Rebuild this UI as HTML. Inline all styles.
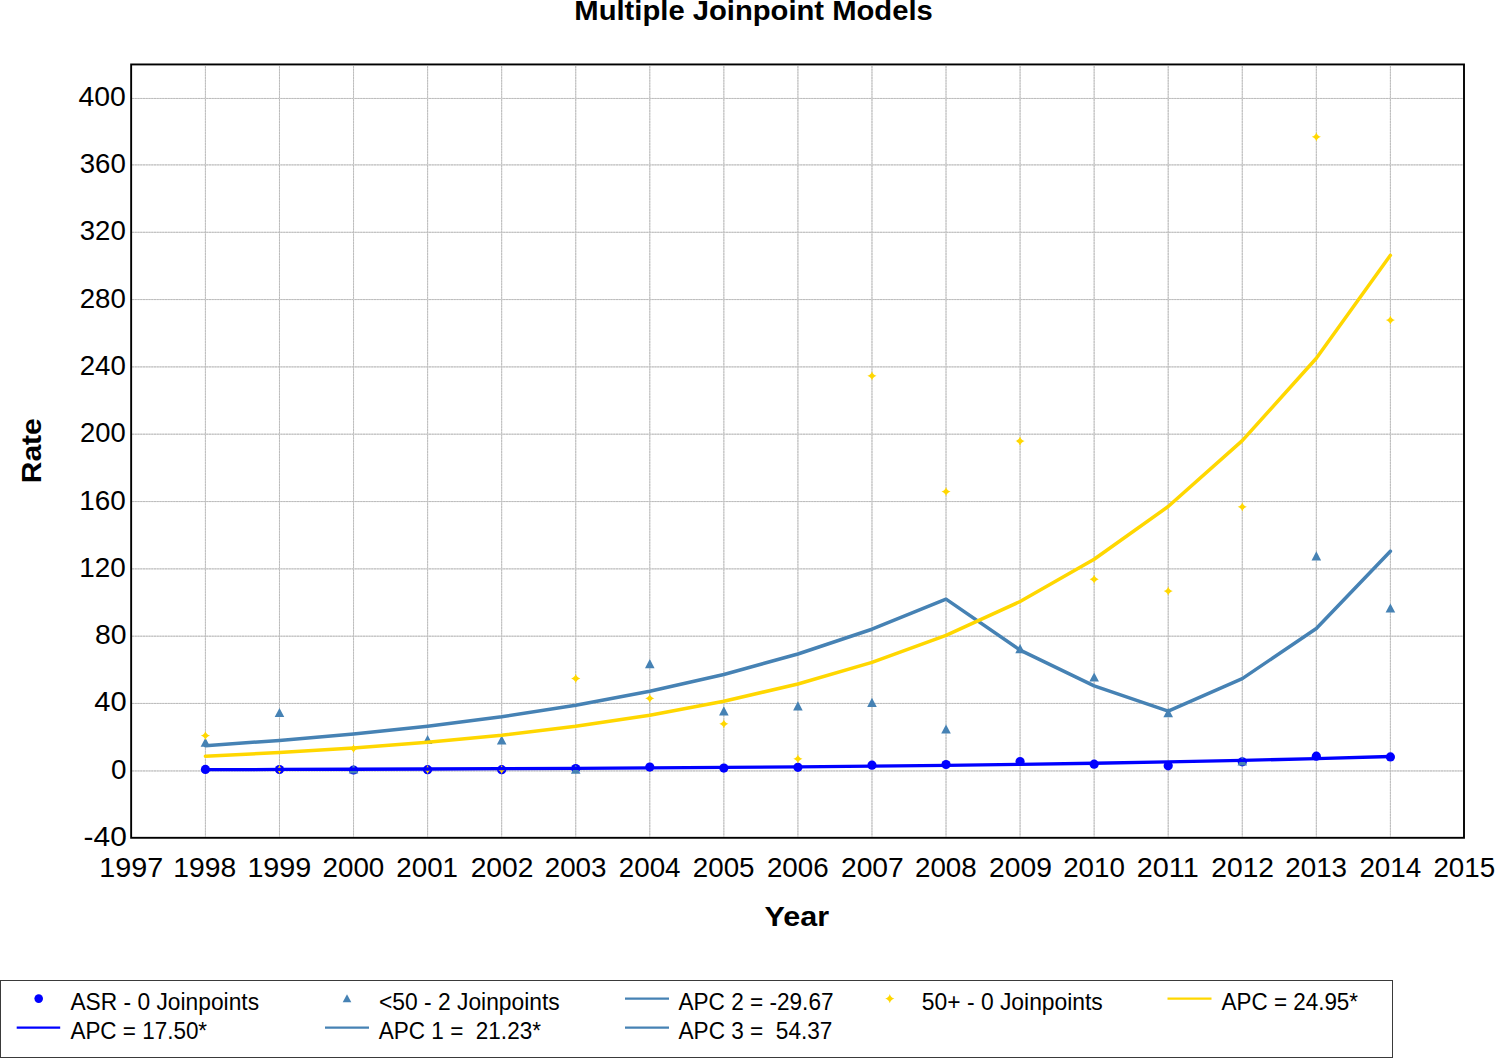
<!DOCTYPE html>
<html><head><meta charset="utf-8"><style>
html,body{margin:0;padding:0;background:#fff;}
svg{display:block;}
text{white-space:pre;}
.g0{stroke:#d6d6d6;stroke-width:1;}.g{stroke:#bcbcbc;stroke-width:1;stroke-dasharray:2 0.75;}
.tky{font-family:"Liberation Sans",sans-serif;font-size:27.4px;fill:#000;}.tkx{font-family:"Liberation Sans",sans-serif;font-size:27.3px;fill:#000;}.tt1{font-family:"Liberation Sans",sans-serif;font-size:27.1px;font-weight:bold;fill:#000;}.tt2{font-family:"Liberation Sans",sans-serif;font-size:27.4px;font-weight:bold;fill:#000;}.tt3{font-family:"Liberation Sans",sans-serif;font-size:27.7px;font-weight:bold;fill:#000;}.lg{font-family:"Liberation Sans",sans-serif;font-size:24.0px;fill:#000;}
</style></head><body>
<svg width="1495" height="1058" viewBox="0 0 1495 1058">
<line x1="132" x2="1463" y1="770.94" y2="770.94" class="g0"/>
<line x1="132" x2="1463" y1="770.94" y2="770.94" class="g"/>
<line x1="132" x2="1463" y1="703.45" y2="703.45" class="g0"/>
<line x1="132" x2="1463" y1="703.45" y2="703.45" class="g"/>
<line x1="132" x2="1463" y1="636.20" y2="636.20" class="g0"/>
<line x1="132" x2="1463" y1="636.20" y2="636.20" class="g"/>
<line x1="132" x2="1463" y1="568.88" y2="568.88" class="g0"/>
<line x1="132" x2="1463" y1="568.88" y2="568.88" class="g"/>
<line x1="132" x2="1463" y1="501.55" y2="501.55" class="g0"/>
<line x1="132" x2="1463" y1="501.55" y2="501.55" class="g"/>
<line x1="132" x2="1463" y1="434.20" y2="434.20" class="g0"/>
<line x1="132" x2="1463" y1="434.20" y2="434.20" class="g"/>
<line x1="132" x2="1463" y1="366.90" y2="366.90" class="g0"/>
<line x1="132" x2="1463" y1="366.90" y2="366.90" class="g"/>
<line x1="132" x2="1463" y1="299.55" y2="299.55" class="g0"/>
<line x1="132" x2="1463" y1="299.55" y2="299.55" class="g"/>
<line x1="132" x2="1463" y1="232.30" y2="232.30" class="g0"/>
<line x1="132" x2="1463" y1="232.30" y2="232.30" class="g"/>
<line x1="132" x2="1463" y1="164.90" y2="164.90" class="g0"/>
<line x1="132" x2="1463" y1="164.90" y2="164.90" class="g"/>
<line x1="132" x2="1463" y1="98.46" y2="98.46" class="g0"/>
<line x1="132" x2="1463" y1="98.46" y2="98.46" class="g"/>
<line y1="66" y2="836.5" x1="205.42" x2="205.42" class="g0"/>
<line y1="66" y2="836.5" x1="205.42" x2="205.42" class="g"/>
<line y1="66" y2="836.5" x1="279.48" x2="279.48" class="g0"/>
<line y1="66" y2="836.5" x1="279.48" x2="279.48" class="g"/>
<line y1="66" y2="836.5" x1="353.54" x2="353.54" class="g0"/>
<line y1="66" y2="836.5" x1="353.54" x2="353.54" class="g"/>
<line y1="66" y2="836.5" x1="427.60" x2="427.60" class="g0"/>
<line y1="66" y2="836.5" x1="427.60" x2="427.60" class="g"/>
<line y1="66" y2="836.5" x1="501.67" x2="501.67" class="g0"/>
<line y1="66" y2="836.5" x1="501.67" x2="501.67" class="g"/>
<line y1="66" y2="836.5" x1="575.73" x2="575.73" class="g0"/>
<line y1="66" y2="836.5" x1="575.73" x2="575.73" class="g"/>
<line y1="66" y2="836.5" x1="649.79" x2="649.79" class="g0"/>
<line y1="66" y2="836.5" x1="649.79" x2="649.79" class="g"/>
<line y1="66" y2="836.5" x1="723.85" x2="723.85" class="g0"/>
<line y1="66" y2="836.5" x1="723.85" x2="723.85" class="g"/>
<line y1="66" y2="836.5" x1="797.91" x2="797.91" class="g0"/>
<line y1="66" y2="836.5" x1="797.91" x2="797.91" class="g"/>
<line y1="66" y2="836.5" x1="871.97" x2="871.97" class="g0"/>
<line y1="66" y2="836.5" x1="871.97" x2="871.97" class="g"/>
<line y1="66" y2="836.5" x1="946.03" x2="946.03" class="g0"/>
<line y1="66" y2="836.5" x1="946.03" x2="946.03" class="g"/>
<line y1="66" y2="836.5" x1="1020.09" x2="1020.09" class="g0"/>
<line y1="66" y2="836.5" x1="1020.09" x2="1020.09" class="g"/>
<line y1="66" y2="836.5" x1="1094.15" x2="1094.15" class="g0"/>
<line y1="66" y2="836.5" x1="1094.15" x2="1094.15" class="g"/>
<line y1="66" y2="836.5" x1="1168.21" x2="1168.21" class="g0"/>
<line y1="66" y2="836.5" x1="1168.21" x2="1168.21" class="g"/>
<line y1="66" y2="836.5" x1="1242.28" x2="1242.28" class="g0"/>
<line y1="66" y2="836.5" x1="1242.28" x2="1242.28" class="g"/>
<line y1="66" y2="836.5" x1="1316.34" x2="1316.34" class="g0"/>
<line y1="66" y2="836.5" x1="1316.34" x2="1316.34" class="g"/>
<line y1="66" y2="836.5" x1="1390.40" x2="1390.40" class="g0"/>
<line y1="66" y2="836.5" x1="1390.40" x2="1390.40" class="g"/>
<rect x="131.15" y="64.45" width="1332.85" height="773.35" fill="none" stroke="#000" stroke-width="1.9"/>
<circle cx="205.42" cy="769.40" r="4.6" fill="#0000ff"/>
<circle cx="279.48" cy="769.50" r="4.6" fill="#0000ff"/>
<circle cx="353.54" cy="770.00" r="4.6" fill="#0000ff"/>
<circle cx="427.60" cy="769.70" r="4.6" fill="#0000ff"/>
<circle cx="501.67" cy="769.70" r="4.6" fill="#0000ff"/>
<circle cx="575.73" cy="768.50" r="4.6" fill="#0000ff"/>
<circle cx="649.79" cy="767.10" r="4.6" fill="#0000ff"/>
<circle cx="723.85" cy="768.10" r="4.6" fill="#0000ff"/>
<circle cx="797.91" cy="767.30" r="4.6" fill="#0000ff"/>
<circle cx="871.97" cy="765.20" r="4.6" fill="#0000ff"/>
<circle cx="946.03" cy="764.50" r="4.6" fill="#0000ff"/>
<circle cx="1020.09" cy="761.50" r="4.6" fill="#0000ff"/>
<circle cx="1094.15" cy="764.20" r="4.6" fill="#0000ff"/>
<circle cx="1168.21" cy="765.80" r="4.6" fill="#0000ff"/>
<circle cx="1242.28" cy="761.80" r="4.6" fill="#0000ff"/>
<circle cx="1316.34" cy="756.20" r="4.6" fill="#0000ff"/>
<circle cx="1390.40" cy="756.90" r="4.6" fill="#0000ff"/>
<path d="M205.42,737.70 l4.80,9.10 l-9.60,0Z" fill="#4682b4"/>
<path d="M279.48,707.90 l4.80,9.10 l-9.60,0Z" fill="#4682b4"/>
<path d="M353.54,764.40 l4.80,9.10 l-9.60,0Z" fill="#4682b4"/>
<path d="M427.60,734.90 l4.80,9.10 l-9.60,0Z" fill="#4682b4"/>
<path d="M501.67,735.40 l4.80,9.10 l-9.60,0Z" fill="#4682b4"/>
<path d="M575.73,764.70 l4.80,9.10 l-9.60,0Z" fill="#4682b4"/>
<path d="M649.79,659.10 l4.80,9.10 l-9.60,0Z" fill="#4682b4"/>
<path d="M723.85,706.30 l4.80,9.10 l-9.60,0Z" fill="#4682b4"/>
<path d="M797.91,701.30 l4.80,9.10 l-9.60,0Z" fill="#4682b4"/>
<path d="M871.97,697.80 l4.80,9.10 l-9.60,0Z" fill="#4682b4"/>
<path d="M946.03,724.40 l4.80,9.10 l-9.60,0Z" fill="#4682b4"/>
<path d="M1020.09,644.10 l4.80,9.10 l-9.60,0Z" fill="#4682b4"/>
<path d="M1094.15,672.40 l4.80,9.10 l-9.60,0Z" fill="#4682b4"/>
<path d="M1168.21,708.10 l4.80,9.10 l-9.60,0Z" fill="#4682b4"/>
<path d="M1242.28,756.50 l4.80,9.10 l-9.60,0Z" fill="#4682b4"/>
<path d="M1316.34,551.30 l4.80,9.10 l-9.60,0Z" fill="#4682b4"/>
<path d="M1390.40,603.50 l4.80,9.10 l-9.60,0Z" fill="#4682b4"/>
<path d="M205.42,731.00 q1,3.6 4.6,4.6 q-3.6,1 -4.6,4.6 q-1,-3.6 -4.6,-4.6 q3.6,-1 4.6,-4.6Z" fill="#ffd700"/>
<path d="M279.48,764.70 q1,3.6 4.6,4.6 q-3.6,1 -4.6,4.6 q-1,-3.6 -4.6,-4.6 q3.6,-1 4.6,-4.6Z" fill="#ffd700"/>
<path d="M353.54,743.90 q1,3.6 4.6,4.6 q-3.6,1 -4.6,4.6 q-1,-3.6 -4.6,-4.6 q3.6,-1 4.6,-4.6Z" fill="#ffd700"/>
<path d="M427.60,764.90 q1,3.6 4.6,4.6 q-3.6,1 -4.6,4.6 q-1,-3.6 -4.6,-4.6 q3.6,-1 4.6,-4.6Z" fill="#ffd700"/>
<path d="M501.67,764.90 q1,3.6 4.6,4.6 q-3.6,1 -4.6,4.6 q-1,-3.6 -4.6,-4.6 q3.6,-1 4.6,-4.6Z" fill="#ffd700"/>
<path d="M575.73,673.80 q1,3.6 4.6,4.6 q-3.6,1 -4.6,4.6 q-1,-3.6 -4.6,-4.6 q3.6,-1 4.6,-4.6Z" fill="#ffd700"/>
<path d="M649.79,693.70 q1,3.6 4.6,4.6 q-3.6,1 -4.6,4.6 q-1,-3.6 -4.6,-4.6 q3.6,-1 4.6,-4.6Z" fill="#ffd700"/>
<path d="M723.85,719.20 q1,3.6 4.6,4.6 q-3.6,1 -4.6,4.6 q-1,-3.6 -4.6,-4.6 q3.6,-1 4.6,-4.6Z" fill="#ffd700"/>
<path d="M797.91,754.20 q1,3.6 4.6,4.6 q-3.6,1 -4.6,4.6 q-1,-3.6 -4.6,-4.6 q3.6,-1 4.6,-4.6Z" fill="#ffd700"/>
<path d="M871.97,371.20 q1,3.6 4.6,4.6 q-3.6,1 -4.6,4.6 q-1,-3.6 -4.6,-4.6 q3.6,-1 4.6,-4.6Z" fill="#ffd700"/>
<path d="M946.03,486.90 q1,3.6 4.6,4.6 q-3.6,1 -4.6,4.6 q-1,-3.6 -4.6,-4.6 q3.6,-1 4.6,-4.6Z" fill="#ffd700"/>
<path d="M1020.09,436.50 q1,3.6 4.6,4.6 q-3.6,1 -4.6,4.6 q-1,-3.6 -4.6,-4.6 q3.6,-1 4.6,-4.6Z" fill="#ffd700"/>
<path d="M1094.15,574.60 q1,3.6 4.6,4.6 q-3.6,1 -4.6,4.6 q-1,-3.6 -4.6,-4.6 q3.6,-1 4.6,-4.6Z" fill="#ffd700"/>
<path d="M1168.21,586.40 q1,3.6 4.6,4.6 q-3.6,1 -4.6,4.6 q-1,-3.6 -4.6,-4.6 q3.6,-1 4.6,-4.6Z" fill="#ffd700"/>
<path d="M1242.28,502.20 q1,3.6 4.6,4.6 q-3.6,1 -4.6,4.6 q-1,-3.6 -4.6,-4.6 q3.6,-1 4.6,-4.6Z" fill="#ffd700"/>
<path d="M1316.34,132.20 q1,3.6 4.6,4.6 q-3.6,1 -4.6,4.6 q-1,-3.6 -4.6,-4.6 q3.6,-1 4.6,-4.6Z" fill="#ffd700"/>
<path d="M1390.40,315.40 q1,3.6 4.6,4.6 q-3.6,1 -4.6,4.6 q-1,-3.6 -4.6,-4.6 q3.6,-1 4.6,-4.6Z" fill="#ffd700"/>
<polyline points="205.42,745.72 279.48,740.41 353.54,733.97 427.60,726.16 501.67,716.69 575.73,705.22 649.79,691.31 723.85,674.45 797.91,654.00 871.97,629.22 946.03,599.17 1020.09,650.08 1094.15,685.88 1168.21,711.06 1242.28,678.61 1316.34,628.51 1390.40,551.18" fill="none" stroke="#4682b4" stroke-width="3.5" stroke-linejoin="round" stroke-linecap="round"/>
<polyline points="205.42,756.14 279.48,752.50 353.54,747.94 427.60,742.26 501.67,735.15 575.73,726.27 649.79,715.17 723.85,701.31 797.91,683.99 871.97,662.34 946.03,635.30 1020.09,601.50 1094.15,559.28 1168.21,506.52 1242.28,440.60 1316.34,358.23 1390.40,255.30" fill="none" stroke="#ffd700" stroke-width="3.5" stroke-linejoin="round" stroke-linecap="round"/>
<polyline points="205.42,769.66 279.48,769.47 353.54,769.25 427.60,768.99 501.67,768.68 575.73,768.32 649.79,767.90 723.85,767.41 797.91,766.82 871.97,766.14 946.03,765.33 1020.09,764.38 1094.15,763.27 1168.21,761.97 1242.28,760.43 1316.34,758.63 1390.40,756.51" fill="none" stroke="#0000ff" stroke-width="3.3" stroke-linejoin="round" stroke-linecap="round"/>
<text transform="translate(574.34,19.70) scale(1.0782,1)" class="tt1">Multiple Joinpoint Models</text>
<text transform="translate(764.59,925.60) scale(1.1140,1)" class="tt2">Year</text>
<text transform="translate(40.50,483.27) rotate(-90) scale(1.0842,1)" class="tt3">Rate</text>
<text transform="translate(83.61,846.03) scale(1.0919,1)" class="tky">-40</text>
<text transform="translate(110.88,778.74) scale(1.0154,1)" class="tky">0</text>
<text transform="translate(94.34,711.45) scale(1.0607,1)" class="tky">40</text>
<text transform="translate(95.06,644.16) scale(1.0357,1)" class="tky">80</text>
<text transform="translate(79.26,576.88) scale(1.0186,1)" class="tky">120</text>
<text transform="translate(79.26,509.59) scale(1.0186,1)" class="tky">160</text>
<text transform="translate(80.10,442.30) scale(1.0000,1)" class="tky">200</text>
<text transform="translate(79.69,375.01) scale(1.0091,1)" class="tky">240</text>
<text transform="translate(79.69,307.73) scale(1.0091,1)" class="tky">280</text>
<text transform="translate(79.69,240.44) scale(1.0091,1)" class="tky">320</text>
<text transform="translate(79.69,173.15) scale(1.0091,1)" class="tky">360</text>
<text transform="translate(78.46,105.86) scale(1.0364,1)" class="tky">400</text>
<text transform="translate(99.25,877.40) scale(1.0526,1)" class="tkx">1997</text>
<text transform="translate(173.35,877.40) scale(1.0345,1)" class="tkx">1998</text>
<text transform="translate(247.38,877.40) scale(1.0526,1)" class="tkx">1999</text>
<text transform="translate(322.53,877.40) scale(1.0169,1)" class="tkx">2000</text>
<text transform="translate(396.34,877.40) scale(1.0155,1)" class="tkx">2001</text>
<text transform="translate(470.63,877.40) scale(1.0345,1)" class="tkx">2002</text>
<text transform="translate(544.71,877.40) scale(1.0169,1)" class="tkx">2003</text>
<text transform="translate(618.77,877.40) scale(1.0169,1)" class="tkx">2004</text>
<text transform="translate(692.83,877.40) scale(1.0169,1)" class="tkx">2005</text>
<text transform="translate(766.89,877.40) scale(1.0169,1)" class="tkx">2006</text>
<text transform="translate(840.94,877.40) scale(1.0345,1)" class="tkx">2007</text>
<text transform="translate(915.01,877.40) scale(1.0169,1)" class="tkx">2008</text>
<text transform="translate(989.06,877.40) scale(1.0345,1)" class="tkx">2009</text>
<text transform="translate(1063.14,877.40) scale(1.0169,1)" class="tkx">2010</text>
<text transform="translate(1136.76,877.40) scale(1.0571,1)" class="tkx">2011</text>
<text transform="translate(1211.24,877.40) scale(1.0345,1)" class="tkx">2012</text>
<text transform="translate(1285.32,877.40) scale(1.0169,1)" class="tkx">2013</text>
<text transform="translate(1359.38,877.40) scale(1.0169,1)" class="tkx">2014</text>
<text transform="translate(1433.44,877.40) scale(1.0169,1)" class="tkx">2015</text>
<text transform="translate(70.40,1010.00) scale(0.9495,1)" class="lg">ASR - 0 Joinpoints</text>
<text transform="translate(70.40,1038.90) scale(0.9363,1)" class="lg">APC = 17.50*</text>
<text transform="translate(378.95,1010.00) scale(0.9516,1)" class="lg">&lt;50 - 2 Joinpoints</text>
<text transform="translate(378.80,1038.90) scale(0.9390,1)" class="lg">APC 1 =  21.23*</text>
<text transform="translate(678.50,1010.00) scale(0.9409,1)" class="lg">APC 2 = -29.67</text>
<text transform="translate(678.50,1038.90) scale(0.9420,1)" class="lg">APC 3 =  54.37</text>
<text transform="translate(921.85,1010.00) scale(0.9521,1)" class="lg">50+ - 0 Joinpoints</text>
<text transform="translate(1221.60,1010.00) scale(0.9342,1)" class="lg">APC = 24.95*</text>
<rect x="0.5" y="980.5" width="1392" height="77" fill="none" stroke="#3a3a3a" stroke-width="1"/>
<circle cx="38.7" cy="998.6" r="4.3" fill="#0000ff"/>
<line x1="16.7" x2="60.2" y1="1027.6" y2="1027.6" stroke="#0000ff" stroke-width="2.4"/>
<path d="M347.00,994.16 l4.32,8.19 l-8.64,0Z" fill="#4682b4"/>
<line x1="325" x2="369" y1="1027.6" y2="1027.6" stroke="#4682b4" stroke-width="2.4"/>
<line x1="625" x2="669" y1="998.6" y2="998.6" stroke="#4682b4" stroke-width="2.4"/>
<line x1="625" x2="669" y1="1027.6" y2="1027.6" stroke="#4682b4" stroke-width="2.4"/>
<path d="M889.80,994.00 q1,3.6 4.6,4.6 q-3.6,1 -4.6,4.6 q-1,-3.6 -4.6,-4.6 q3.6,-1 4.6,-4.6Z" fill="#ffd700"/>
<line x1="1167.5" x2="1211.5" y1="998.6" y2="998.6" stroke="#ffd700" stroke-width="2.4"/>
</svg>
</body></html>
